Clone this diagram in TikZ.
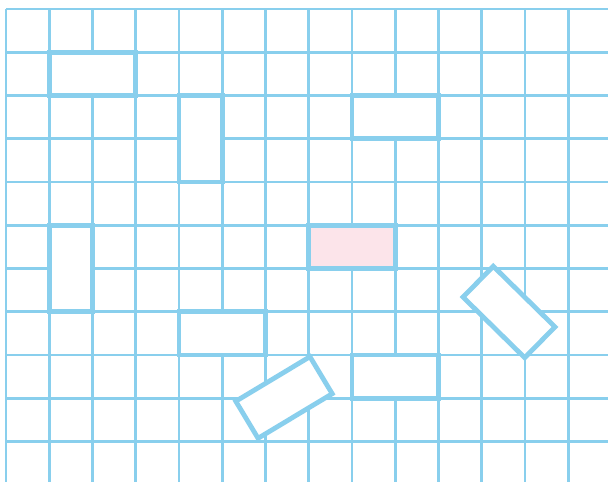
\documentclass[tikz,border=0pt]{standalone}
\definecolor{gridblue}{RGB}{137,207,237}
\definecolor{pinkfill}{RGB}{252,228,234}
\tikzset{
  gridline/.style={draw=gridblue, line width=2.6pt},
  brick/.style={draw=gridblue, line width=4.8pt, fill=white, line join=miter},
  pinkbrick/.style={brick, fill=pinkfill}
}
\begin{document}
\begin{tikzpicture}[x=1pt,y=-1pt]
\useasboundingbox (0,0) rectangle (608,482);
\fill[white] (0,0) rectangle (608,482);
\def\s{43.25}
% grid
\foreach \i in {0,...,13} {
  \draw[gridline] ({6+\s*\i},9) -- ({6+\s*\i},482);
}
\foreach \j in {0,...,10} {
  \draw[gridline] (6,{9+\s*\j}) -- (608,{9+\s*\j});
}
% axis-aligned bricks (col,row) corners
\newcommand{\brick}[5][brick]{%
  \draw[#1] ({6+\s*#2},{9+\s*#3}) rectangle ({6+\s*#4},{9+\s*#5});}
\brick{1}{1}{3}{2}
\brick{4}{2}{5}{4}
\brick{8}{2}{10}{3}
\brick{1}{5}{2}{7}
\brick[pinkbrick]{7}{5}{9}{6}
\brick{4}{7}{6}{8}
\brick{8}{8}{10}{9}
% rotated bricks
\begin{scope}[shift={(284,397.5)}, rotate=31]
  \draw[brick] (-43.25,-21.6) rectangle (43.25,21.6);
\end{scope}
\begin{scope}[shift={(509,312)}, rotate=-44.5]
  \draw[brick] (-43.25,-21.6) rectangle (43.25,21.6);
\end{scope}
\end{tikzpicture}
\end{document}
